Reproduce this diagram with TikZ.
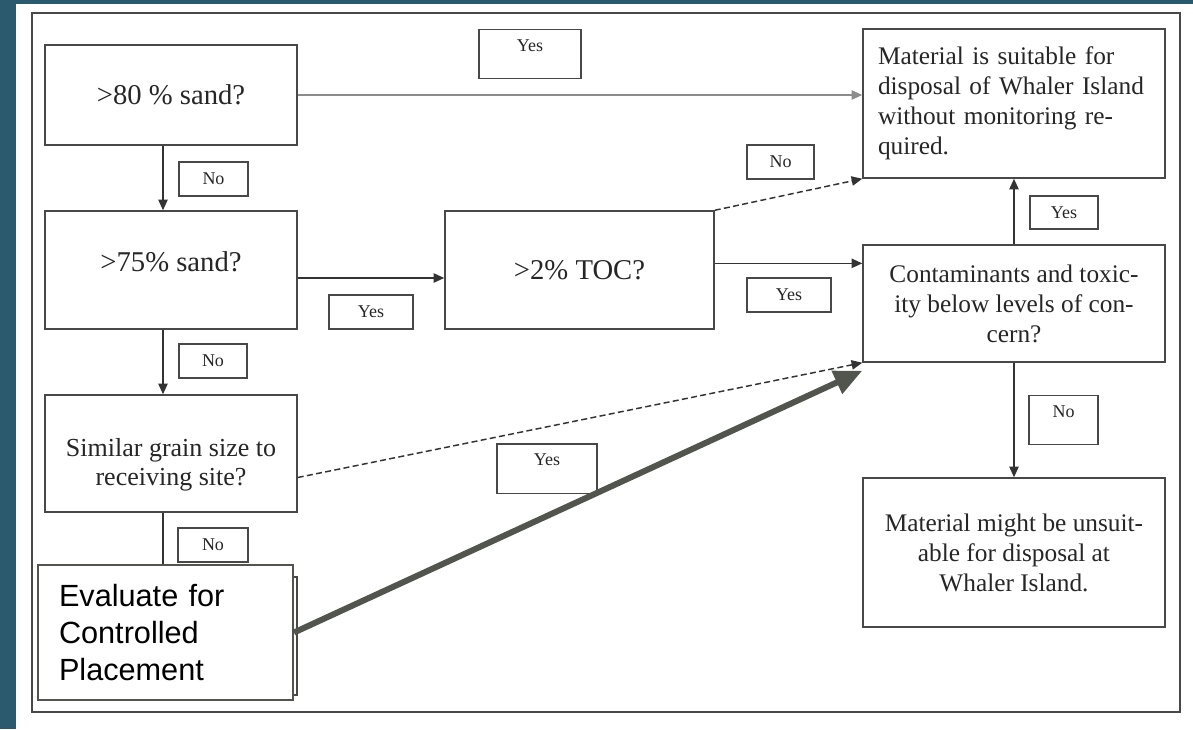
\documentclass[tikz,border=0pt]{standalone}
\usepackage{fontspec}
\setmainfont{Liberation Serif}
\newfontfamily\evalfont{Liberation Sans}
\usepackage{tikz}
\usetikzlibrary{arrows.meta}

\definecolor{slideteal}{RGB}{43,90,110}
\definecolor{boxgray}{RGB}{72,72,72}
\definecolor{pointer}{RGB}{82,85,77}

\begin{document}
\begin{tikzpicture}[
            x=0.75pt, y=-0.75pt, % pixel grid, y downwards
            box/.style={rectangle, draw=boxgray, line width=1.1pt, fill=white, text=black!85, font=\fontsize{19}{22.5}\selectfont, align=center, inner sep=0pt}, % decision boxes
            bigbox/.style={box, font=\fontsize{21.5}{26}\selectfont}, % short questions
            flag/.style={rectangle, draw=boxgray, line width=1pt, fill=white, text=black!85, font=\fontsize{13.5}{15}\selectfont, inner sep=0pt}, % yes / no tags
            tallflag/.style={flag, text height=9pt, text depth=13pt, inner ysep=7.5pt}, % tag with text at the top
            arr/.style={draw=black!80, line width=1.1pt, -{Triangle[length=8pt,width=7pt]}},
            dasharr/.style={arr, dash pattern=on 4.5pt off 2.5pt},
            evalbox/.style={rectangle, draw=pointer, line width=1.5pt, fill=white, font=\evalfont\fontsize{23}{28}\selectfont, align=left, text width=159.75pt, inner xsep=15.75pt, inner ysep=0pt},
            bigarrow/.style={draw=pointer, line width=4.5pt, -{Triangle[length=21pt,width=18pt]}}
            ]

        % slide background
        \useasboundingbox (0,0) rectangle (1193,729);
        \fill[white] (0,0) rectangle (1193,729);
        \fill[slideteal] (0,0) rectangle (16,729);
        \fill[slideteal] (0,0) rectangle (1193,4);
        \draw[boxgray, line width=1.1pt] (32,13) rectangle (1180,712);

        % left column of questions
        \node (sand80) [bigbox, minimum width=189pt, minimum height=75pt] at (171,95) {>80 \% sand?};
        \node (sand75) [bigbox, minimum width=189pt, minimum height=88.5pt, text depth=12pt] at (171,270) {>75\% sand?};
        \node (grain) [box, minimum width=189pt, minimum height=87.75pt, font=\fontsize{19.5}{21.75}\selectfont, text height=52pt, text depth=4pt] at (171,453.5) {Similar grain size to\\ receiving site?};
        \node (hidden) [box, minimum width=189pt, minimum height=88.5pt] at (171,636) {};

        % middle and right column
        \node (toc) [bigbox, minimum width=201.75pt, minimum height=88.5pt] at (579.5,270) {>2\% TOC?};
        \node (suitable) [box, align=left, text width=204pt, inner xsep=11.25pt, minimum height=111.75pt] at (1014,103.5) {Material is suitable for\\ disposal of Whaler Island\\ without monitoring re-\\ quired.};
        \node (contam) [box, minimum width=226.5pt, minimum height=87.75pt] at (1014,303.5) {Contaminants and toxic-\\ ity below levels of con-\\ cern?};
        \node (unsuit) [box, minimum width=226.5pt, minimum height=111.75pt] at (1014,552.5) {Material might be unsuit-\\ able for disposal at\\ Whaler Island.};

        % yes / no tags
        \node (yesA) [tallflag, minimum width=76.5pt] at (530,54) {Yes};
        \node (noA) [flag, minimum width=51.75pt, minimum height=25.5pt] at (213.5,179) {No};
        \node (yesB) [flag, minimum width=63pt, minimum height=25.5pt] at (371,312) {Yes};
        \node (noB) [flag, minimum width=51pt, minimum height=25.5pt] at (213,361) {No};
        \node (noC) [flag, minimum width=52.5pt, minimum height=25.5pt] at (213,545) {No};
        \node (yesC) [tallflag, minimum width=75pt] at (547,468.5) {Yes};
        \node (noD) [flag, minimum width=50.25pt, minimum height=25.5pt] at (780.5,162) {No};
        \node (yesD) [flag, minimum width=63pt, minimum height=25.5pt] at (789,295) {Yes};
        \node (yesE) [flag, minimum width=51pt, minimum height=24.75pt] at (1064,212.5) {Yes};
        \node (noE) [tallflag, minimum width=51.75pt] at (1063.5,420) {No};

        % connectors
        \draw[arr, draw=black!45, fill=black!80] (sand80.east) -- (sand80.east -| suitable.west);
        \draw[arr] ([xshift=-6pt]sand80.south) -- ([xshift=-6pt]sand75.north);
        \draw[arr] ([yshift=-6pt]sand75.east) -- ([yshift=-6pt]toc.west);
        \draw[arr] ([xshift=-6pt]sand75.south) -- ([xshift=-6pt]grain.north);
        \draw[draw=black!80, line width=1.1pt] ([xshift=-6pt]grain.south) -- ([xshift=-6pt]hidden.north);
        \draw[dasharr] ([yshift=-18pt]grain.east) -- (contam.south west);
        \draw[dasharr] (toc.north east) -- (suitable.south west);
        \draw[arr] ([yshift=5pt]toc.east) -- ([yshift=5pt]toc.east -| contam.west);
        \draw[arr] (contam.north) -- (suitable.south);
        \draw[arr] (contam.south) -- (unsuit.north);

        % call-out on top
        \node (evaluate) [evalbox, minimum height=101.25pt] at (165.5,632.5) {Evaluate for\\ Controlled\\ Placement};
        \draw[bigarrow] (evaluate.east) -- ([yshift=-6pt]contam.south west);

    \end{tikzpicture}
\end{document}
